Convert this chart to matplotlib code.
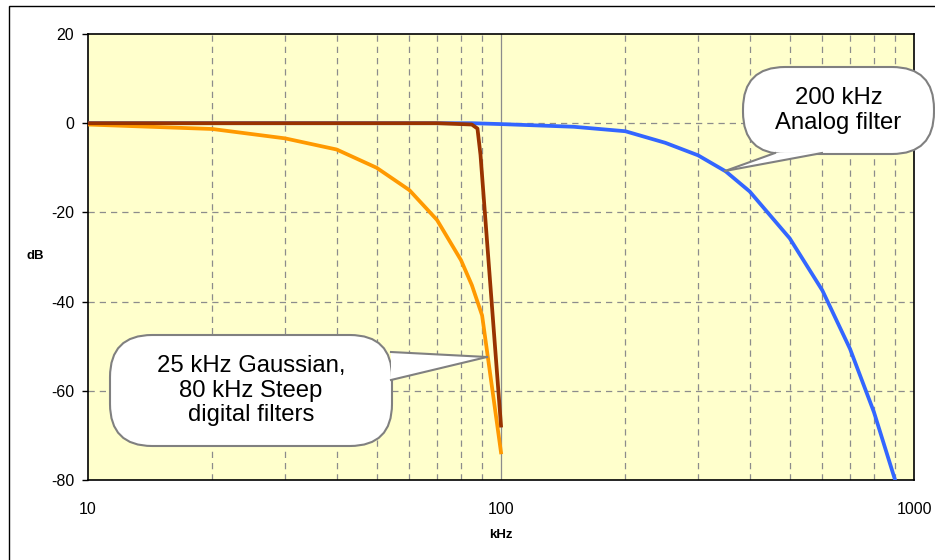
import numpy as np
import matplotlib.pyplot as plt
from matplotlib.patches import FancyBboxPatch, Polygon, Rectangle
from matplotlib.lines import Line2D

plt.rcParams['font.family'] = ['Liberation Sans', 'DejaVu Sans']

# --- data (kHz, dB) ---
gauss_f = [10, 20, 30, 40, 50, 60, 70, 80, 85, 90, 100]
gauss_db = [-0.3, -1.3, -3.4, -5.9, -10.0, -15.0, -21.7, -30.7, -36.3, -43.1, -73.8]

steep_f = [10, 20, 30, 40, 50, 60, 70, 80, 85, 87.7, 89.2, 100]
steep_db = [0, 0, 0, 0, 0, 0, 0, -0.2, -0.3, -1.2, -7.1, -67.8]

analog_f = [10, 20, 50, 85, 100, 150, 200, 250, 300, 350, 400, 500, 600, 700, 800, 900]
analog_db = [0, 0, 0, 0, -0.2, -0.8, -1.8, -4.4, -7.2, -10.8, -15.3, -25.8, -37.5, -50.6, -64.8, -80.0]

y_ticks = [-80, -60, -40, -20, 0, 20]
x_ticks = [10, 100, 1000]
x_ticklabels = ['10', '100', '1000']

W, H = 935, 560
fig = plt.figure(figsize=(W / 100, H / 100), dpi=100)

# outer chart border (only left/top visible in the reference)
fig.add_artist(Rectangle((9 / W, -0.1), 1.2, 1 - 6 / H + 0.1, transform=fig.transFigure,
                         fill=False, edgecolor='black', linewidth=1.0))

ax = fig.add_axes([88 / W, 1 - 480 / H, (914 - 88) / W, (480 - 34) / H])
ax.set_facecolor('#FFFFCC')
ax.set_xscale('log')
ax.set_xlim(10, 1000)
ax.set_ylim(-80, 20)

# grid
for f in list(range(20, 100, 10)) + list(range(200, 1000, 100)):
    ax.axvline(f, color='#8c8c8c', lw=0.9, ls=(0, (5, 4)), zorder=1)
ax.axvline(100, color='#8c8c8c', lw=0.9, zorder=1)
for yv in [-60, -40, -20, 0]:
    ax.axhline(yv, color='#8c8c8c', lw=0.9, ls=(0, (5, 4)), zorder=1)

ax.plot(analog_f, analog_db, color='#3366FF', lw=2.7, zorder=3, solid_joinstyle='round')
ax.plot(gauss_f, gauss_db, color='#FF9900', lw=2.7, zorder=4, solid_joinstyle='round')
ax.plot(steep_f, steep_db, color='#993300', lw=2.7, zorder=5, solid_joinstyle='round')

ax.set_yticks(y_ticks)
ax.set_yticklabels([str(v) for v in y_ticks])
ax.set_xticks(x_ticks)
ax.set_xticklabels(x_ticklabels)
ax.minorticks_off()
ax.tick_params(axis='y', direction='out', length=4, width=1, pad=6, labelsize=11.5)
ax.tick_params(axis='x', length=0, pad=16, labelsize=11.5)
for s in ax.spines.values():
    s.set_color('black')
    s.set_linewidth(1.2)

fig.text(35 / W, 1 - 256 / H, 'dB', fontsize=9.5, fontweight='bold', ha='center', va='center')
fig.text(501 / W, 1 - 535 / H, 'kHz', fontsize=9.5, fontweight='bold', ha='center', va='center')


def callout(x0, y0, x1, y1, base1, base2, tip, text):
    # coordinates given in image pixels (top-left origin)
    def p(x, y):
        return (x / W, 1 - y / H)
    bx, by = p(x0, y1)
    bw, bh = (x1 - x0) / W, (y1 - y0) / H
    box = FancyBboxPatch((bx, by), bw, bh, boxstyle='round,pad=0,rounding_size=0.045',
                         transform=fig.transFigure, facecolor='white', edgecolor='#808080',
                         linewidth=1.5, zorder=10, mutation_aspect=W / H)
    fig.add_artist(box)
    wedge = Polygon([p(*base1), p(*tip), p(*base2)], closed=True, transform=fig.transFigure,
                    facecolor='white', edgecolor='none', zorder=11)
    fig.add_artist(wedge)
    for b in (base1, base2):
        fig.add_artist(Line2D([p(*b)[0], p(*tip)[0]], [p(*b)[1], p(*tip)[1]],
                              transform=fig.transFigure, color='#808080', lw=1.5, zorder=12))
    cx, cy = p((x0 + x1) / 2, (y0 + y1) / 2)
    fig.text(cx, cy, text, ha='center', va='center', fontsize=17.2, linespacing=1.15, zorder=13)


callout(110, 335, 392, 446, (391, 352), (391, 380), (487, 357),
        '25 kHz Gaussian,\n80 kHz Steep\ndigital filters')
callout(743, 67, 934, 154, (775, 153), (822, 153), (725, 171),
        '200 kHz\nAnalog filter')

fig.savefig('out.png', dpi=100)
